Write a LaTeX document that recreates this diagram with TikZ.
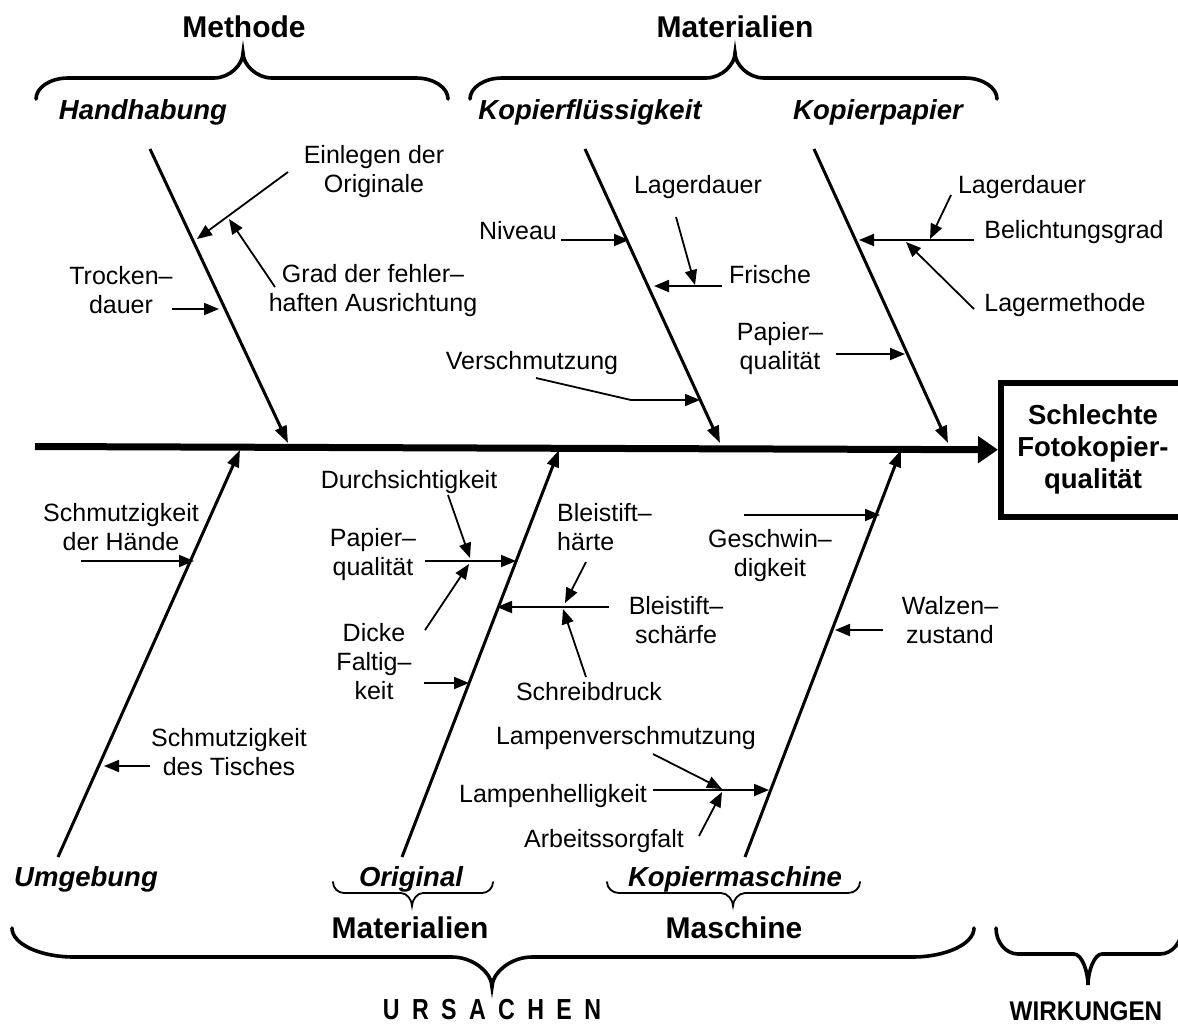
\documentclass[tikz,border=0pt]{standalone}
\usepackage{fontspec}
\setmainfont{Liberation Sans}
\usetikzlibrary{arrows.meta}

% curly brace: style, left x, right x, tip x, end y, bar y, tip y, end radius, tip radius
\newcommand{\curlybrace}[9]{%
  \draw[#1] (#2,#5) .. controls (#2,{#5+0.55*(#6-#5)}) and ({#2+0.45*#8},#6) .. ({#2+#8},#6)
    -- ({#4-#9},#6) .. controls ({#4-0.45*#9},#6) and (#4,{#6+0.55*(#7-#6)}) .. (#4,#7)
    .. controls (#4,{#6+0.55*(#7-#6)}) and ({#4+0.45*#9},#6) .. ({#4+#9},#6)
    -- ({#3-#8},#6) .. controls ({#3-0.45*#8},#6) and (#3,{#5+0.55*(#6-#5)}) .. (#3,#5);}

\begin{document}
\begin{tikzpicture}[x=1pt,y=-1pt,
  lbl/.style={font=\fontsize{25}{29}\selectfont, align=center, inner sep=0pt},
  cat/.style={font=\fontsize{27.5}{32}\selectfont\bfseries\itshape, inner sep=0pt},
  head/.style={font=\fontsize{30}{34}\selectfont\bfseries, inner sep=0pt},
  boxtext/.style={font=\fontsize{27.5}{32}\selectfont\bfseries, align=center, inner sep=0pt},
  spine/.style={line width=7pt, -{Triangle[length=20pt,width=26pt]}},
  bone/.style={line width=3pt, -{Triangle[length=17pt,width=12pt]}},
  twig/.style={line width=1.8pt, -{Triangle[length=15pt,width=12pt]}},
  bigbrace/.style={line width=3.6pt, line cap=round},
  smallbrace/.style={line width=1.8pt, line cap=round},
]
\useasboundingbox (0,0) rectangle (1178,1026);

% ---------- effect ----------
\node[draw, line width=5.5pt, minimum width=220pt, minimum height=134pt,
      inner sep=0pt, anchor=north west] (effect) at (998,380) {};
\node[boxtext] (effecttext) at (1093,449) {Schlechte\\Fotokopier-\\qualität};

% ---------- spine ----------
\coordinate (tail) at (35,446.5);
\draw[spine] (tail) -- (effect.west);

% ---------- main bones ----------
\coordinate (handT) at (150,149);  \coordinate (handB) at (288,443);
\coordinate (fluT)  at (585,149);  \coordinate (fluB)  at (720,443);
\coordinate (papT)  at (814,149);  \coordinate (papB)  at (948,443);
\coordinate (umgB)  at (58,857);   \coordinate (umgT)  at (240,450);
\coordinate (oriB)  at (402,857);  \coordinate (oriT)  at (559,450);
\coordinate (kopB)  at (745,857);  \coordinate (kopT)  at (901,450);
\draw[bone] (handT) -- (handB);
\draw[bone] (fluT) -- (fluB);
\draw[bone] (papT) -- (papB);
\draw[bone] (umgB) -- (umgT);
\draw[bone] (oriB) -- (oriT);
\draw[bone] (kopB) -- (kopT);

% ---------- headings and braces (top) ----------
\node[head] (methode) at (244,27) {Methode};
\node[head] (materialA) at (735,27) {Materialien};
\curlybrace{bigbrace}{36}{448}{243}{99}{78}{53}{32}{29}
\curlybrace{bigbrace}{470}{997}{735}{99}{78}{53}{32}{29}
\node[cat] (handhabung) at (143,112) {Handhabung};
\node[cat] (kopfl) at (590,112) {Kopierflüssigkeit};
\node[cat] (koppap) at (878,112) {Kopierpapier};

% ---------- Handhabung ----------
\node[lbl] (einlegen) at (374,172) {Einlegen der\\Originale};
\coordinate (einA) at (288,172); \coordinate (einB) at (197,239);
\draw[twig] (einA) -- (einB);
\node[lbl] (grad) at (373,291) {Grad der fehler–\\haften Ausrichtung};
\coordinate (gradA) at (275,287); \coordinate (gradB) at (229,219);
\draw[twig] (gradA) -- (gradB);
\node[lbl] (trocken) at (121,290) {Trocken–\\dauer};
\coordinate (trA) at (172,309); \coordinate (trB) at (219,309);
\draw[twig] (trA) -- (trB);

% ---------- Kopierflüssigkeit ----------
\node[lbl] (niveau) at (518,231) {Niveau};
\coordinate (nivA) at (561,240); \coordinate (nivB) at (629,240);
\draw[twig] (nivA) -- (nivB);
\node[lbl] (lager1) at (698,187) {Lagerdauer};
\coordinate (lagA) at (676,217); \coordinate (lagB) at (695,285);
\draw[twig] (lagA) -- (lagB);
\node[lbl] (frische) at (770,275) {Frische};
\coordinate (frA) at (722,286); \coordinate (frB) at (654,286);
\draw[twig] (frA) -- (frB);
\node[lbl] (verschm) at (532,363) {Verschmutzung};
\coordinate (veA) at (536,378); \coordinate (veK) at (631,400); \coordinate (veB) at (700,400);
\draw[twig] (veA) -- (veK) -- (veB);

% ---------- Kopierpapier ----------
\node[lbl] (lager2) at (1022,187) {Lagerdauer};
\coordinate (lg2A) at (951,195); \coordinate (lg2B) at (930,239);
\draw[twig] (lg2A) -- (lg2B);
\node[lbl] (belicht) at (1074,232) {Belichtungsgrad};
\coordinate (beA) at (974,240); \coordinate (beB) at (859,240);
\draw[twig] (beA) -- (beB);
\node[lbl] (lagerm) at (1065,305) {Lagermethode};
\coordinate (lmA) at (974,309); \coordinate (lmB) at (906,242);
\draw[twig] (lmA) -- (lmB);
\node[lbl] (papqual1) at (780,349) {Papier–\\qualität};
\coordinate (pq1A) at (836,354); \coordinate (pq1B) at (905,354);
\draw[twig] (pq1A) -- (pq1B);

% ---------- Umgebung ----------
\node[lbl] (haende) at (121,527) {Schmutzigkeit\\der Hände};
\coordinate (haA) at (81,561); \coordinate (haB) at (194,561);
\draw[twig] (haA) -- (haB);
\node[lbl] (tisch) at (229,752) {Schmutzigkeit\\des Tisches};
\coordinate (tiA) at (150,766); \coordinate (tiB) at (104,766);
\draw[twig] (tiA) -- (tiB);

% ---------- Original ----------
\node[lbl] (durch) at (409,482) {Durchsichtigkeit};
\coordinate (duA) at (448,495); \coordinate (duB) at (470,558);
\draw[twig] (duA) -- (duB);
\node[lbl] (papqual2) at (373,555) {Papier–\\qualität};
\coordinate (pq2A) at (425,561); \coordinate (pq2B) at (516,561);
\draw[twig] (pq2A) -- (pq2B);
\node[lbl] (dicke) at (374,662) {Dicke\\Faltig–\\keit};
\coordinate (diA) at (425,630); \coordinate (diB) at (469,564);
\draw[twig] (diA) -- (diB);
\coordinate (faA) at (424,683); \coordinate (faB) at (469,683);
\draw[twig] (faA) -- (faB);
\node[lbl, align=left, anchor=west] (haerte) at (557,527) {Bleistift–\\härte};
\coordinate (hrA) at (586,562); \coordinate (hrB) at (565,603);
\draw[twig] (hrA) -- (hrB);
\node[lbl] (schaerfe) at (676,620) {Bleistift–\\schärfe};
\coordinate (scA) at (609,607); \coordinate (scB) at (497,607);
\draw[twig] (scA) -- (scB);
\node[lbl] (druck) at (589,692) {Schreibdruck};
\coordinate (drA) at (586,677); \coordinate (drB) at (563,609);
\draw[twig] (drA) -- (drB);

% ---------- Kopiermaschine ----------
\node[lbl] (geschw) at (770,556) {Geschwin–\\digkeit};
\coordinate (geA) at (744,515); \coordinate (geB) at (880,515);
\draw[twig] (geA) -- (geB);
\node[lbl] (walzen) at (950,620) {Walzen–\\zustand};
\coordinate (waA) at (883,630); \coordinate (waB) at (835,630);
\draw[twig] (waA) -- (waB);
\node[lbl] (lampv) at (626,738) {Lampenverschmutzung};
\coordinate (lvA) at (653,754); \coordinate (lvB) at (722,789);
\draw[twig] (lvA) -- (lvB);
\node[lbl] (lamph) at (553,796) {Lampenhelligkeit};
\coordinate (lhA) at (653,790); \coordinate (lhB) at (769,790);
\draw[twig] (lhA) -- (lhB);
\node[lbl] (arbeit) at (604,841) {Arbeitssorgfalt};
\coordinate (arA) at (699,836); \coordinate (arB) at (722,792);
\draw[twig] (arA) -- (arB);

% ---------- bottom categories and braces ----------
\node[cat] (umgebung) at (86,879) {Umgebung};
\node[cat] (original) at (411,879) {Original};
\node[cat] (kopmasch) at (735,879) {Kopiermaschine};
\curlybrace{smallbrace}{333}{493}{412}{882}{893}{906}{11}{11}
\curlybrace{smallbrace}{607}{860}{733}{882}{893}{906}{12}{12}
\node[head] (materialB) at (410,928) {Materialien};
\node[head] (maschine) at (734,928) {Maschine};
\curlybrace{bigbrace}{12}{974}{492}{928}{957}{987}{62}{40}
\curlybrace{bigbrace}{996}{1182}{1088}{928}{954}{985}{22}{14}
\node[head, font=\fontsize{29}{32}\selectfont\bfseries] (ursachen) at (492,1010)
  {\scalebox{0.8}[1]{U\kern15.5pt R\kern15.5pt S\kern15.5pt A\kern15.5pt C\kern15.5pt H\kern15.5pt E\kern15.5pt N}};
\node[font=\fontsize{27}{30}\selectfont\bfseries, inner sep=0pt] (wirkungen) at (1086,1011)
  {\scalebox{0.9}[1]{WIRKUNGEN}};
\end{tikzpicture}
\end{document}
